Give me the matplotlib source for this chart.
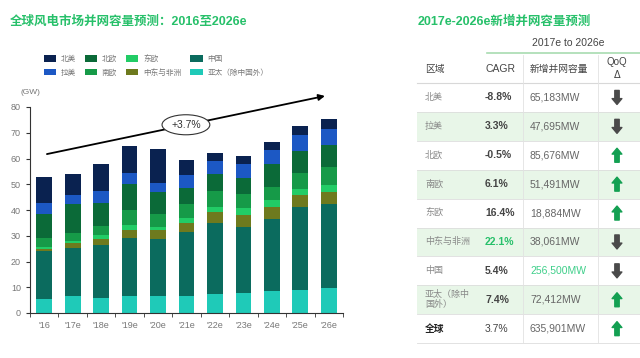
import numpy as np
import matplotlib
matplotlib.use('Agg')
import matplotlib.pyplot as plt
from matplotlib.patches import Rectangle

plt.rcParams['font.family'] = ['Liberation Sans', 'Noto Sans CJK SC', 'DejaVu Sans']

# ---- data (GW), stacked bottom to top ----
years = ["'16", "'17e", "'18e", "'19e", "'20e", "'21e", "'22e", "'23e", "'24e", "'25e", "'26e"]
apac = [5.3, 6.6, 5.8, 6.5, 6.5, 6.5, 7.3, 7.9, 8.6, 9.1, 9.7]
china = [18.7, 18.6, 20.8, 22.7, 22.2, 25.1, 27.8, 25.6, 27.8, 31.9, 32.6]
mea = [0.7, 1.9, 2.2, 3.1, 3.5, 3.5, 4.1, 4.7, 4.6, 5.0, 4.6]
east_eu = [0.8, 0.9, 1.3, 1.9, 1.3, 1.9, 2.1, 2.4, 2.9, 2.3, 3.0]
south_eu = [3.5, 2.9, 3.7, 5.8, 4.8, 5.3, 6.1, 5.5, 5.2, 6.0, 6.7]
north_eu = [9.3, 11.3, 8.8, 10.1, 8.5, 6.3, 6.5, 6.4, 8.6, 8.7, 8.6]
latam = [4.6, 3.5, 4.9, 4.1, 3.7, 4.8, 5.2, 5.4, 5.5, 6.0, 6.4]
north_am = [9.8, 8.1, 10.4, 10.5, 13.1, 6.2, 3.1, 3.0, 3.2, 3.6, 3.9]

series = [
    ('亚太（除中国外）', apac, '#1fcab8'),
    ('中国', china, '#0b6b5e'),
    ('中东与非洲', mea, '#6e7a1e'),
    ('东欧', east_eu, '#22cc66'),
    ('南欧', south_eu, '#169a48'),
    ('北欧', north_eu, '#0b6a38'),
    ('拉美', latam, '#1c58c4'),
    ('北美', north_am, '#0a2250'),
]

# ---- table data ----
t_regions = ['北美', '拉美', '北欧', '南欧', '东欧', '中东与非洲', '中国', '亚太（除中\n国外）', '全球']
t_cagr = ['-8.8%', '3.3%', '-0.5%', '6.1%', '16.4%', '22.1%', '5.4%', '7.4%', '3.7%']
t_added = ['65,183MW', '47,695MW', '85,676MW', '51,491MW', '18,884MW', '38,061MW',
           '256,500MW', '72,412MW', '635,901MW']
t_up = [False, False, True, True, True, False, False, True, True]

green_title = '#27c06a'
grey = '#777777'

fig = plt.figure(figsize=(6.4, 3.58), dpi=100)
ax = fig.add_axes([30 / 640, 1 - 313 / 358, 313 / 640, 206 / 358])

x = np.arange(len(years))
bottom = np.zeros(len(years))
handles = {}
for name, vals, col in series:
    b = ax.bar(x, vals, 0.55, bottom=bottom, color=col, linewidth=0)
    handles[name] = b
    bottom += np.array(vals)

ax.set_xlim(-0.49, 10.49)
ax.set_ylim(0, 80)
ax.set_yticks(range(0, 81, 10))
ax.set_xticks(x)
ax.set_xticklabels(years)
ax.set_xticks(np.arange(-0.5, 10.6, 1), minor=True)
ax.tick_params(axis='x', which='major', length=0, labelsize=6.5, labelcolor=grey, pad=6)
ax.tick_params(axis='x', which='minor', length=3, color='#333333')
ax.tick_params(axis='y', length=3, labelsize=6.5, labelcolor=grey, color='#333333')
for s in ['top', 'right']:
    ax.spines[s].set_visible(False)
ax.spines['left'].set_color('#333333')
ax.spines['bottom'].set_color('#333333')
ax.text(-0.85, 85.5, '(GW)', fontsize=6, color=grey, ha='left', va='center')

# trend arrow with CAGR label
ax.annotate('', xy=(9.96, 84.5), xytext=(0.0, 61.5), annotation_clip=False,
            arrowprops=dict(arrowstyle='-|>', color='black', lw=1.3, mutation_scale=9))
ax.text(4.98, 73.1, '+3.7%', fontsize=7.5, ha='center', va='center', color='#333333',
        bbox=dict(boxstyle='ellipse,pad=0.2', fc='white', ec='#333333', lw=0.8))

# legend
order = ['北美', '拉美', '北欧', '南欧', '东欧', '中东与非洲', '中国', '亚太（除中国外）']
leg = fig.legend([handles[n] for n in order], order, loc='upper left',
                 bbox_to_anchor=(40 / 640, 1 - 51 / 358), ncol=4, frameon=False,
                 fontsize=5.5, handlelength=1.6, handleheight=1.0, handletextpad=0.6,
                 columnspacing=1.2, labelspacing=0.75, borderpad=0)
for t in leg.get_texts():
    t.set_color(grey)

# overlay in pixel space for titles and table
ov = fig.add_axes([0, 0, 1, 1], facecolor='none')
ov.set_xlim(0, 640)
ov.set_ylim(358, 0)
ov.axis('off')

ov.text(10, 22, '全球风电市场并网容量预测：2016至2026e', fontsize=9, fontweight='bold',
        color=green_title, va='center', ha='left')
ov.text(418, 22, '2017e-2026e新增并网容量预测', fontsize=9, fontweight='bold',
        color=green_title, va='center', ha='left')

left, right = 417, 640
ov.text(568, 43, '2017e to 2026e', fontsize=7.5, color='#444444', ha='center', va='center')
ov.plot([487, right], [53, 53], color='#a8dcb0', lw=1.2)
ov.text(425, 69, '区域', fontsize=7, color='#444444', va='center')
ov.text(485, 69, 'CAGR', fontsize=7.5, color='#444444', va='center')
ov.text(530, 69, '新增并网容量', fontsize=7, color='#444444', va='center')
ov.text(617, 62, 'QoQ', fontsize=7, color='#444444', ha='center', va='center')
ov.text(617, 75, 'Δ', fontsize=7, color='#444444', ha='center', va='center', family='DejaVu Sans')
ov.plot([left, right], [83, 83], color='#d8d8d8', lw=0.8)

row_h = 28.9
top = 83
for i in range(len(t_regions)):
    y0 = top + i * row_h
    yc = y0 + row_h / 2
    if i % 2 == 1:
        ov.add_patch(Rectangle((left, y0), right - left, row_h, fc='#e8f6e8', ec='none'))
    ov.plot([left, right], [y0 + row_h, y0 + row_h], color='#dddddd', lw=0.6)
    last = i == len(t_regions) - 1
    ov.text(425, yc, t_regions[i], fontsize=6.5 if not last else 7,
            color='#222222' if last else '#888888', va='center', ha='left',
            fontweight='bold' if last else 'normal', linespacing=1.1)
    ccol = '#27c06a' if t_cagr[i] == '22.1%' else '#444444'
    ov.text(485, yc, t_cagr[i], fontsize=7.5, color=ccol, va='center',
            fontweight='normal' if last else 'bold')
    acol = '#3fcf8a' if t_added[i] == '256,500MW' else '#666666'
    ov.text(530, yc, t_added[i], fontsize=7.5, color=acol, va='center')
    style = 'simple,head_width=1.0,head_length=0.6,tail_width=0.45'
    if t_up[i]:
        ov.annotate('', xy=(617, yc - 7), xytext=(617, yc + 7),
                    arrowprops=dict(arrowstyle=style, color='#13a052', mutation_scale=7,
                                    shrinkA=0, shrinkB=0))
    else:
        ov.annotate('', xy=(617, yc + 7), xytext=(617, yc - 7),
                    arrowprops=dict(arrowstyle=style, color='#4a4a4a', mutation_scale=7,
                                    shrinkA=0, shrinkB=0))

for xv in [523, 598]:
    ov.plot([xv, xv], [55, top + row_h * len(t_regions)], color='#e2e2e2', lw=0.6)

fig.savefig('out.png', dpi=100)
